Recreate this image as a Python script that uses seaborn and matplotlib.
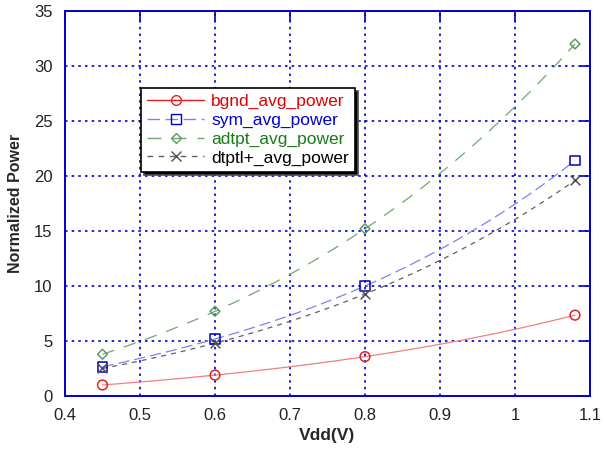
import matplotlib
matplotlib.use("Agg")
import matplotlib.pyplot as plt
from matplotlib.lines import Line2D
import seaborn as sns
import pandas as pd

# Supply voltage sweep (V)
vdd = [0.45, 0.6, 0.8, 1.08]

# Normalized power per scheme
bgnd_avg_power = [1.0, 1.9, 3.58, 7.35]
sym_avg_power = [2.65, 5.18, 10.0, 21.4]
adtpt_avg_power = [3.8, 7.7, 15.2, 32.0]
dtptl_avg_power = [2.5, 4.8, 9.27, 19.6]

series_names = ["bgnd_avg_power", "sym_avg_power", "adtpt_avg_power", "dtptl+_avg_power"]
series_values = [bgnd_avg_power, sym_avg_power, adtpt_avg_power, dtptl_avg_power]

x_ticks = [0.4, 0.5, 0.6, 0.7, 0.8, 0.9, 1.0, 1.1]
x_tick_labels = ["0.4", "0.5", "0.6", "0.7", "0.8", "0.9", "1", "1.1"]
y_ticks = [0, 5, 10, 15, 20, 25, 30, 35]

sns.set_theme(style="white")
plt.rcParams["font.family"] = ["Liberation Sans", "DejaVu Sans"]

styles = {
    "bgnd_avg_power": dict(line="#f08080", ls="-", marker="o", mec="#e82020", text="#e00000", ms=7),
    "sym_avg_power": dict(line="#8080f0", ls=(0, (9, 4)), marker="s", mec="#0000c0", text="#0000d0", ms=7),
    "adtpt_avg_power": dict(line="#70a870", ls=(0, (10, 8)), marker="D", mec="#609a60", text="#1a7a1a", ms=5),
    "dtptl+_avg_power": dict(line="#606060", ls=(0, (4, 4)), marker="x", mec="#505050", text="#000000", ms=7),
}

frames = []
for name, vals in zip(series_names, series_values):
    frames.append(pd.DataFrame({"Vdd": vdd, "power": vals, "series": name}))
df = pd.concat(frames, ignore_index=True)

fig = plt.figure(figsize=(6.05, 4.5), dpi=100)
ax = fig.add_axes([0.1074, 0.12, 0.8678, 0.8556])

handles = []
for name in series_names:
    st = styles[name]
    sub = df[df["series"] == name]
    # smooth cubic through the four measured points
    sns.regplot(data=sub, x="Vdd", y="power", order=3, ci=None, scatter=False, ax=ax,
                line_kws=dict(color=st["line"], linestyle=st["ls"], linewidth=0.9))
    fill = "none"
    sns.scatterplot(data=sub, x="Vdd", y="power", ax=ax, marker=st["marker"],
                    s=st["ms"] ** 2, facecolor=fill if st["marker"] != "x" else st["mec"],
                    edgecolor=st["mec"] if st["marker"] != "x" else None,
                    color=st["mec"], linewidth=1.1, zorder=5, legend=False)
    handles.append(Line2D([0], [0], color=st["line"] if name != "bgnd_avg_power" else "#e02020",
                          linestyle=st["ls"], linewidth=1.0, marker=st["marker"],
                          markersize=st["ms"], markerfacecolor="none",
                          markeredgecolor=st["mec"], markeredgewidth=1.0))

ax.set_xlim(0.4, 1.1)
ax.set_ylim(0, 35)
ax.set_xticks(x_ticks)
ax.set_xticklabels(x_tick_labels)
ax.set_yticks(y_ticks)
ax.tick_params(axis="both", direction="in", length=7, width=1.2, color="#0000cc",
               top=True, right=True, labelsize=12, labelcolor="#222222", pad=9)
ax.grid(True, color="#0000cc", linestyle=(0, (1.5, 2.5)), linewidth=1.2)
for sp in ax.spines.values():
    sp.set_color("#0000cc")
    sp.set_linewidth(1.4)

ax.set_xlabel("Vdd(V)", fontsize=12.5, fontweight="bold", labelpad=3)
ax.set_ylabel("Normalized Power", fontsize=11.5, fontweight="bold", labelpad=8)

leg = ax.legend(handles, series_names, loc="upper left", bbox_to_anchor=(0.145, 0.80),
                borderaxespad=0, fontsize=12.5, handlelength=3.3, handletextpad=0.4,
                labelspacing=0.2, frameon=True, fancybox=False, edgecolor="black",
                shadow={"facecolor": "black", "alpha": 1.0}, borderpad=0.35)
leg.get_frame().set_linewidth(1.2)
for txt, name in zip(leg.get_texts(), series_names):
    txt.set_color(styles[name]["text"])

fig.savefig("out.png", dpi=100)
